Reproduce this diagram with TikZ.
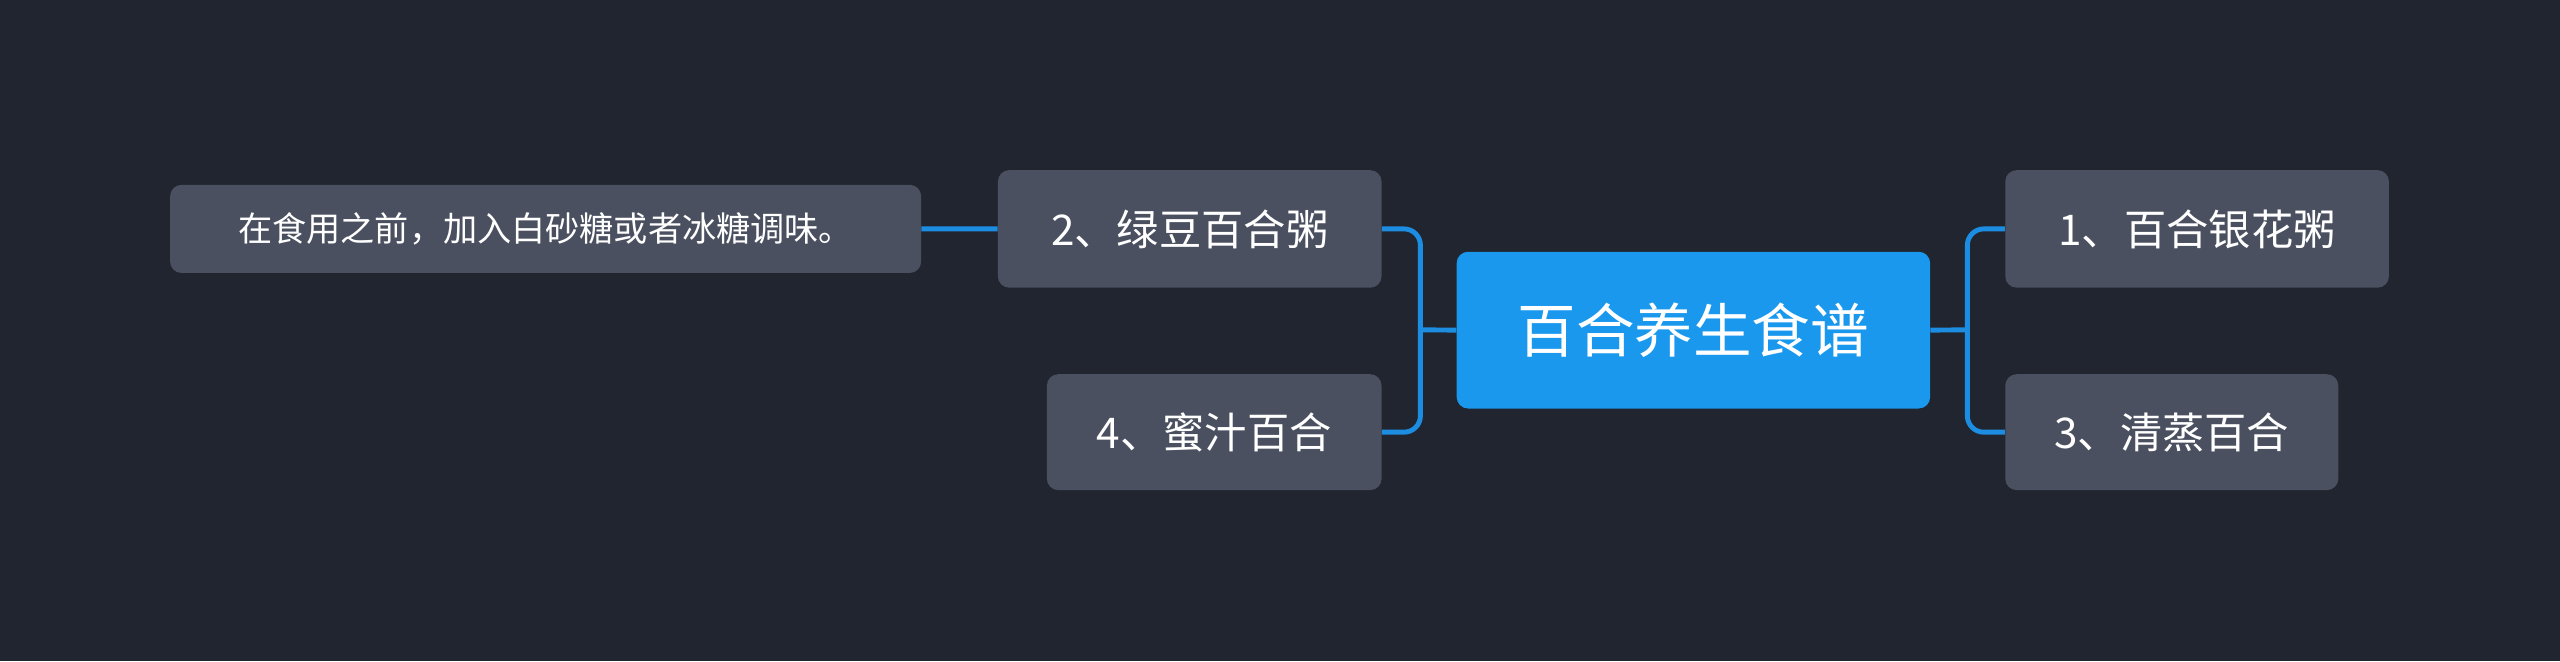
\documentclass[tikz,border=0pt]{standalone}
\usepackage{fontspec}
\setmainfont{Noto Sans CJK SC}
\begin{document}
\begin{tikzpicture}[x=1bp,y=-1bp,
  box/.style={rectangle,rounded corners=7bp,fill=nodegray,text=white,inner sep=0pt,anchor=north west},
  link/.style={draw=linkblue,line width=3bp,rounded corners=10bp}]
\definecolor{bg}{HTML}{21252F}
\definecolor{nodegray}{HTML}{4A505F}
\definecolor{mainblue}{HTML}{1A98EE}
\definecolor{linkblue}{HTML}{1C8DE0}
\fill[bg] (0,0) rectangle (1568,405);
\useasboundingbox (0,0) rectangle (1568,405);
\node[box,fill=mainblue,minimum width=290bp,minimum height=96bp,font=\fontsize{36}{40}\selectfont] (c) at (892,154) {百合养生食谱};
\node[box,minimum width=235bp,minimum height=72bp,font=\fontsize{26}{30}\selectfont] (n1) at (1228,104) {1、百合银花粥};
\node[box,minimum width=204bp,minimum height=71bp,font=\fontsize{26}{30}\selectfont] (n3) at (1228,229) {3、清蒸百合};
\node[box,minimum width=235bp,minimum height=72bp,font=\fontsize{26}{30}\selectfont] (n2) at (611,104) {2、绿豆百合粥};
\node[box,minimum width=205bp,minimum height=71bp,font=\fontsize{26}{30}\selectfont] (n4) at (641,229) {4、蜜汁百合};
\node[box,minimum width=460bp,minimum height=54bp,font=\fontsize{21}{25}\selectfont] (l) at (104,113) {在食用之前，加入白砂糖或者冰糖调味。};
\coordinate (cl) at (870,202);
\coordinate (cr) at (1205,202);
\draw[link] (c.west) -- (cl);
\draw[link] (cl) |- (n2.east);
\draw[link] (cl) |- (n4.east);
\draw[link] (c.east) -- (cr);
\draw[link] (cr) |- (n1.west);
\draw[link] (cr) |- (n3.west);
\draw[link] (l.east) -- (n2.west);
\end{tikzpicture}
\end{document}
